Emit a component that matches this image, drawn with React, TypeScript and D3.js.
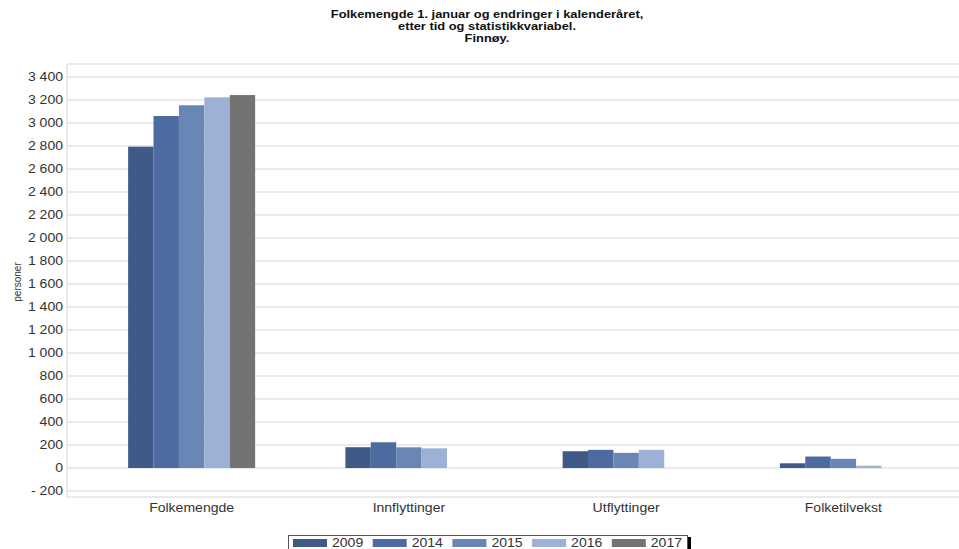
import React, { useEffect, useRef } from "react";
import * as d3 from "d3";

const categories = ["Folkemengde", "Innflyttinger", "Utflyttinger", "Folketilvekst"];
const years = ["2009", "2014", "2015", "2016", "2017"];
// one array per year, in category order (null = no value)
const values2009 = [2794, 181, 146, 41];
const values2014 = [3061, 224, 158, 100];
const values2015 = [3154, 180, 132, 80];
const values2016 = [3223, 171, 158, 20];
const values2017 = [3243, null, null, null];
const yTicks = d3.range(-200, 3401, 200);
const titleLines = [
  "Folkemengde 1. januar og endringer i kalenderåret,",
  "etter tid og statistikkvariabel.",
  "Finnøy.",
];
const colors = ["#405a87", "#4d6ba1", "#6a86b5", "#9db0d5", "#737373"];

const W = 959;
const H = 549;
const SX = 1.17; // text in the original is a bit stretched sideways

export default function App() {
  const ref = useRef<SVGSVGElement>(null);

  useEffect(() => {
    const series = [values2009, values2014, values2015, values2016, values2017];
    const svg = d3.select(ref.current);
    svg.selectAll("*").remove();

    const font = "'Liberation Sans', Arial, sans-serif";
    const plot = { left: 67, right: 959, top: 64, bottom: 497 };
    const at = (px: number, py: number) => `translate(${px},${py}) scale(${SX},1)`;

    const y = d3.scaleLinear().domain([-252, 3513]).range([plot.bottom, plot.top]);
    const x = d3
      .scaleBand()
      .domain(categories)
      .range([83, 952])
      .paddingInner(0.4154)
      .paddingOuter(0.2077);
    const x1 = d3.scaleBand().domain(years).range([0, x.bandwidth()]);

    // title
    svg
      .append("g")
      .selectAll("text")
      .data(titleLines)
      .enter()
      .append("text")
      .attr("transform", (d, i) => at(487, 18 + i * 12))
      .attr("text-anchor", "middle")
      .attr("font-family", font)
      .attr("font-weight", "bold")
      .attr("font-size", 11)
      .attr("fill", "#111")
      .text((d) => d);

    // grid
    svg
      .append("g")
      .selectAll("line")
      .data(yTicks)
      .enter()
      .append("line")
      .attr("x1", plot.left)
      .attr("x2", plot.right)
      .attr("y1", (d) => y(d))
      .attr("y2", (d) => y(d))
      .attr("stroke", "#e3e3e3")
      .attr("stroke-width", 1.5);

    // plot border
    svg
      .append("path")
      .attr(
        "d",
        `M${plot.right},${plot.top}H${plot.left}V${plot.bottom}H${plot.right}`
      )
      .attr("fill", "none")
      .attr("stroke", "#e3e3e3")
      .attr("stroke-width", 1.5);

    const fmt = (v: number) => {
      const s = d3.format(",")(Math.abs(v)).replace(/,/g, " ");
      return v < 0 ? "- " + s : s;
    };

    svg
      .append("g")
      .selectAll("text")
      .data(yTicks)
      .enter()
      .append("text")
      .attr("transform", (d) => at(63, y(d)))
      .attr("dy", "0.35em")
      .attr("text-anchor", "end")
      .attr("font-family", font)
      .attr("font-size", 12)
      .attr("fill", "#333")
      .text((d) => fmt(d));

    svg
      .append("text")
      .attr("transform", "translate(21,282) rotate(-90)")
      .attr("text-anchor", "middle")
      .attr("font-family", font)
      .attr("font-size", 10)
      .attr("fill", "#333")
      .text("personer");

    // bars
    const groups = svg
      .append("g")
      .selectAll("g")
      .data(categories)
      .enter()
      .append("g")
      .attr("transform", (d) => `translate(${x(d)},0)`);

    groups
      .selectAll("rect")
      .data((d, ci) =>
        years
          .map((yr, si) => ({ yr, si, v: series[si][ci] }))
          .filter((e) => e.v !== null)
      )
      .enter()
      .append("rect")
      .attr("x", (d) => x1(d.yr)!)
      .attr("width", x1.bandwidth())
      .attr("y", (d) => y(Math.max(0, d.v as number)))
      .attr("height", (d) => Math.abs(y(d.v as number) - y(0)))
      .attr("fill", (d) => colors[d.si]);

    // category labels
    svg
      .append("g")
      .selectAll("text")
      .data(categories)
      .enter()
      .append("text")
      .attr("transform", (d) => at(x(d)! + x.bandwidth() / 2, 512))
      .attr("text-anchor", "middle")
      .attr("font-family", font)
      .attr("font-size", 12)
      .attr("fill", "#333")
      .text((d) => d);

    // legend
    const lg = svg.append("g");
    lg.append("rect")
      .attr("x", 288.5)
      .attr("y", 535.5)
      .attr("width", 399)
      .attr("height", 20)
      .attr("fill", "#fff")
      .attr("stroke", "#555");
    lg.append("rect")
      .attr("x", 688)
      .attr("y", 537)
      .attr("width", 3)
      .attr("height", 14)
      .attr("fill", "#000");
    const items = lg
      .selectAll("g")
      .data(years)
      .enter()
      .append("g")
      .attr("transform", (d, i) => `translate(${293 + i * 79.7},0)`);
    items
      .append("rect")
      .attr("x", 0)
      .attr("y", 539)
      .attr("width", 34)
      .attr("height", 8)
      .attr("fill", (d, i) => colors[i]);
    items
      .append("text")
      .attr("transform", at(39, 543))
      .attr("dy", "0.35em")
      .attr("font-family", font)
      .attr("font-size", 12)
      .attr("fill", "#333")
      .text((d) => d);
  }, []);

  return (
    <svg
      ref={ref}
      width={W}
      height={H}
      style={{ position: "absolute", left: 0, top: 0, background: "#fff" }}
    />
  );
}
